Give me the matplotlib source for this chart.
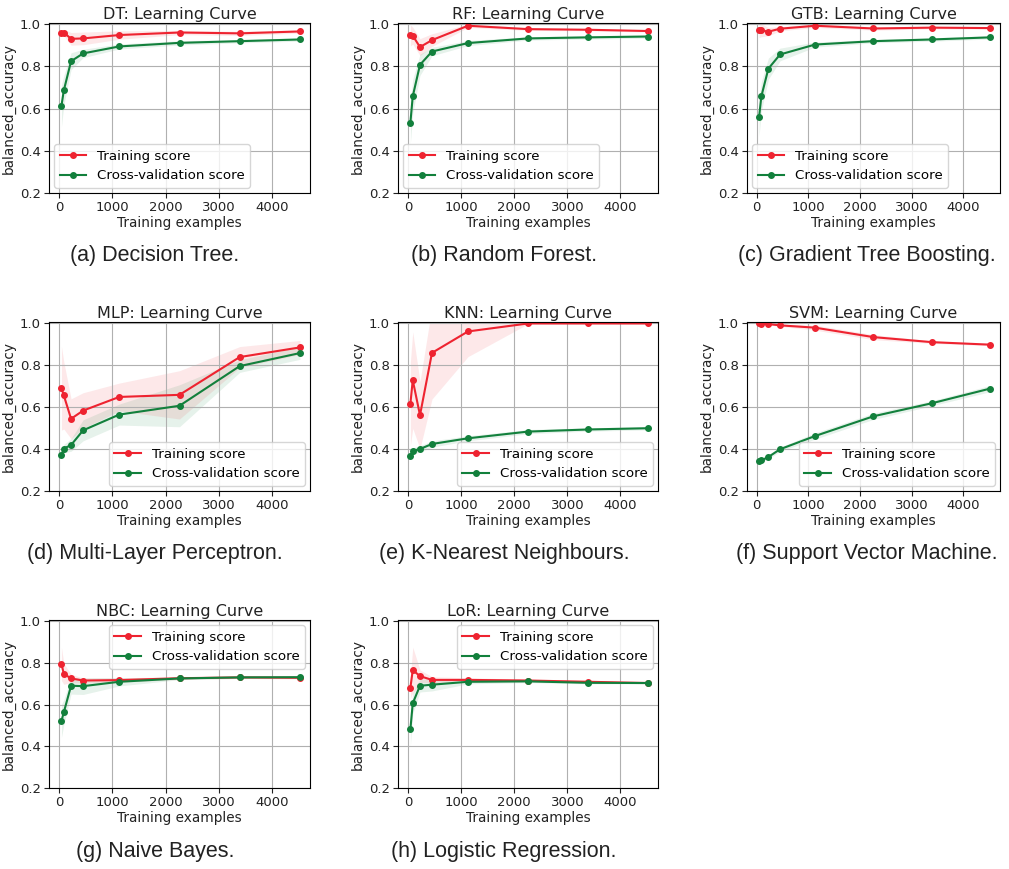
import numpy as np
import matplotlib
matplotlib.use("Agg")
import matplotlib.pyplot as plt

# training set sizes (same for every model)
train_sizes = [45, 90, 226, 452, 1130, 2260, 3390, 4520]

# mean scores and std per model
dt_train = [0.957, 0.960, 0.930, 0.932, 0.948, 0.960, 0.956, 0.965]
dt_train_std = [0.010, 0.015, 0.030, 0.030, 0.020, 0.010, 0.010, 0.008]
dt_cv = [0.612, 0.686, 0.824, 0.861, 0.894, 0.911, 0.919, 0.927]
dt_cv_std = [0.100, 0.070, 0.040, 0.020, 0.012, 0.010, 0.008, 0.008]

rf_train = [0.946, 0.945, 0.891, 0.924, 0.992, 0.976, 0.973, 0.967]
rf_train_std = [0.050, 0.040, 0.040, 0.030, 0.008, 0.006, 0.005, 0.005]
rf_cv = [0.533, 0.658, 0.807, 0.870, 0.910, 0.932, 0.937, 0.941]
rf_cv_std = [0.100, 0.080, 0.050, 0.020, 0.012, 0.008, 0.008, 0.008]

gtb_train = [0.971, 0.970, 0.964, 0.978, 0.992, 0.979, 0.983, 0.981]
gtb_train_std = [0.035, 0.030, 0.020, 0.010, 0.008, 0.008, 0.006, 0.005]
gtb_cv = [0.558, 0.658, 0.789, 0.856, 0.903, 0.919, 0.927, 0.937]
gtb_cv_std = [0.090, 0.070, 0.050, 0.030, 0.012, 0.008, 0.008, 0.008]

mlp_train = [0.690, 0.655, 0.544, 0.583, 0.648, 0.658, 0.838, 0.884]
mlp_train_std = [0.200, 0.160, 0.095, 0.085, 0.066, 0.115, 0.050, 0.033]
mlp_cv = [0.370, 0.402, 0.419, 0.489, 0.564, 0.606, 0.795, 0.857]
mlp_cv_std = [0.015, 0.020, 0.030, 0.050, 0.050, 0.100, 0.030, 0.030]

knn_train = [0.615, 0.728, 0.561, 0.858, 0.960, 0.998, 0.998, 0.998]
knn_train_std = [0.200, 0.230, 0.160, 0.220, 0.120, 0.002, 0.001, 0.001]
knn_cv = [0.365, 0.391, 0.400, 0.424, 0.451, 0.483, 0.493, 0.499]
knn_cv_std = [0.015, 0.015, 0.015, 0.015, 0.012, 0.010, 0.008, 0.008]

svm_train = [1.000, 0.997, 0.995, 0.989, 0.978, 0.933, 0.909, 0.897]
svm_train_std = [0.002, 0.003, 0.004, 0.005, 0.012, 0.012, 0.006, 0.005]
svm_cv = [0.343, 0.346, 0.362, 0.399, 0.462, 0.556, 0.618, 0.688]
svm_cv_std = [0.008, 0.008, 0.010, 0.010, 0.015, 0.015, 0.012, 0.015]

nbc_train = [0.795, 0.747, 0.725, 0.715, 0.717, 0.726, 0.730, 0.728]
nbc_train_std = [0.080, 0.050, 0.020, 0.012, 0.010, 0.006, 0.005, 0.005]
nbc_cv = [0.521, 0.563, 0.690, 0.688, 0.709, 0.725, 0.730, 0.731]
nbc_cv_std = [0.080, 0.060, 0.040, 0.040, 0.020, 0.006, 0.005, 0.005]

lor_train = [0.680, 0.765, 0.736, 0.718, 0.718, 0.715, 0.709, 0.703]
lor_train_std = [0.050, 0.110, 0.030, 0.015, 0.010, 0.006, 0.005, 0.004]
lor_cv = [0.481, 0.606, 0.690, 0.695, 0.709, 0.711, 0.704, 0.703]
lor_cv_std = [0.080, 0.050, 0.030, 0.030, 0.010, 0.006, 0.005, 0.004]

names = ["DT", "RF", "GTB", "MLP", "KNN", "SVM", "NBC", "LoR"]
captions = ["(a) Decision Tree.", "(b) Random Forest.", "(c) Gradient Tree Boosting.",
            "(d) Multi-Layer Perceptron.", "(e) K-Nearest Neighbours.",
            "(f) Support Vector Machine.", "(g) Naive Bayes.", "(h) Logistic Regression."]
legend_locs = ["lower left", "lower left", "lower left",
               "lower right", "lower right", "lower right",
               "upper right", "upper right"]

results = [
    (dt_train, dt_train_std, dt_cv, dt_cv_std),
    (rf_train, rf_train_std, rf_cv, rf_cv_std),
    (gtb_train, gtb_train_std, gtb_cv, gtb_cv_std),
    (mlp_train, mlp_train_std, mlp_cv, mlp_cv_std),
    (knn_train, knn_train_std, knn_cv, knn_cv_std),
    (svm_train, svm_train_std, svm_cv, svm_cv_std),
    (nbc_train, nbc_train_std, nbc_cv, nbc_cv_std),
    (lor_train, lor_train_std, lor_cv, lor_cv_std),
]

RED = "#ee2330"
GREEN = "#12803c"

W, H = 1009, 869
fig = plt.figure(figsize=(W / 100, H / 100), dpi=100)

# axes boxes in pixels (left, right, top, bottom)
col_lr = [(49, 310), (398, 658), (747, 1000)]
row_tb = [(23, 193), (322, 491), (620, 788)]
cap_x = [155, 504, 867]
cap_y = [255, 553, 852]

x = np.array(train_sizes)
for i, name in enumerate(names):
    r, c = divmod(i, 3)
    l, rr = col_lr[c]
    t, b = row_tb[r]
    ax = fig.add_axes([l / W, 1 - b / H, (rr - l) / W, (b - t) / H])
    tr, tr_s, cv, cv_s = [np.array(v) for v in results[i]]

    ax.grid(True, color="#b0b0b0", linewidth=0.8)
    ax.fill_between(x, tr - tr_s, tr + tr_s, alpha=0.1, color=RED, linewidth=0)
    ax.fill_between(x, cv - cv_s, cv + cv_s, alpha=0.1, color=GREEN, linewidth=0)
    ax.plot(x, tr, "o-", color=RED, markersize=4, linewidth=1.5, label="Training score")
    ax.plot(x, cv, "o-", color=GREEN, markersize=4, linewidth=1.5, label="Cross-validation score")

    ax.set_ylim(0.2, 1.005)
    ax.set_yticks([0.2, 0.4, 0.6, 0.8, 1.0])
    ax.set_xticks([0, 1000, 2000, 3000, 4000])
    ax.set_xlim(-188, 4708)
    ax.tick_params(labelsize=9.5, colors="#222222", pad=2.5)
    ax.set_title(name + ": Learning Curve", fontsize=11.5, color="#222222", pad=3)
    ax.set_xlabel("Training examples", fontsize=9.8, color="#222222", labelpad=1)
    ax.set_ylabel("balanced_accuracy", fontsize=9.8, color="#222222", labelpad=3)
    ax.legend(loc=legend_locs[i], fontsize=9.6, borderaxespad=0.4)

    fig.text(cap_x[c] / W, 1 - cap_y[r] / H, captions[i], ha="center", va="center",
             fontsize=15.5, family="Liberation Sans", color="#222222")

fig.savefig("out.png", dpi=100)
